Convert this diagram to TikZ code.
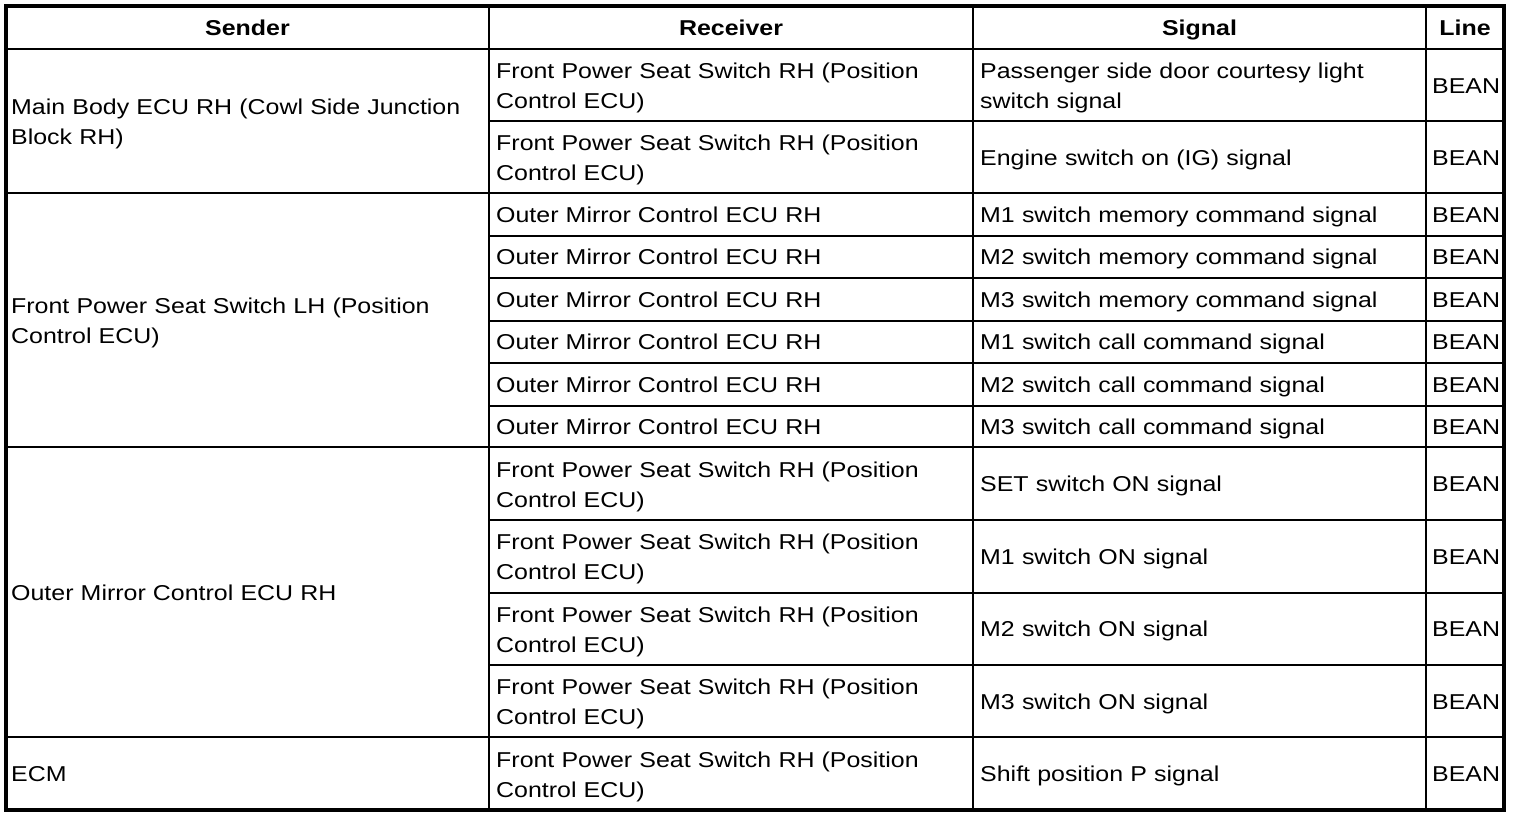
\documentclass[tikz,border=0pt]{standalone}
\usepackage{fontspec}
\setmainfont[FakeStretch=1.16]{Liberation Sans}
\begin{document}
\begin{tikzpicture}[x=1pt,y=-1pt,
  cell/.style={anchor=base west, align=left, text width=460pt, inner sep=0pt, font=\fontsize{21.5}{30}\selectfont},
  head/.style={anchor=base, inner sep=0pt, font=\fontsize{21.5}{30}\selectfont\bfseries},
  thin rule/.style={line width=2pt},
  frame/.style={line width=4pt}]
\useasboundingbox (0,0) rectangle (1520,816);
% rules
\foreach \y in {49,193,447,737} \draw[thin rule] (6,\y) -- (1504,\y);
\foreach \y in {121,235.5,278,320.5,363,405.5,520,592.5,665} \draw[thin rule] (489,\y) -- (1504,\y);
\foreach \x in {489,973,1426} \draw[thin rule] (\x,6) -- (\x,810);
\draw[frame] (6,6) rectangle (1504,810);
% header
\node[head] (h1) at (247.5,35.5) {Sender};
\node[head] (h2) at (731,35.5) {Receiver};
\node[head] (h3) at (1199.5,35.5) {Signal};
\node[head] (h4) at (1465,35.5) {Line};
% senders
\node[cell] (s1) at (11,114.5) {Main Body ECU RH (Cowl Side Junction\\Block RH)};
\node[cell] (s2) at (11,313.5) {Front Power Seat Switch LH (Position\\Control ECU)};
\node[cell] (s3) at (11,600) {Outer Mirror Control ECU RH};
\node[cell] (s4) at (11,781.5) {ECM};
% receivers
\node[cell] (r1) at (496,78.5) {Front Power Seat Switch RH (Position\\Control ECU)};
\node[cell] (r2) at (496,150.5) {Front Power Seat Switch RH (Position\\Control ECU)};
\node[cell] (r3) at (496,222.25) {Outer Mirror Control ECU RH};
\node[cell] (r4) at (496,264.75) {Outer Mirror Control ECU RH};
\node[cell] (r5) at (496,307.25) {Outer Mirror Control ECU RH};
\node[cell] (r6) at (496,349.75) {Outer Mirror Control ECU RH};
\node[cell] (r7) at (496,392.25) {Outer Mirror Control ECU RH};
\node[cell] (r8) at (496,434.25) {Outer Mirror Control ECU RH};
\node[cell] (r9) at (496,477) {Front Power Seat Switch RH (Position\\Control ECU)};
\node[cell] (r10) at (496,549.75) {Front Power Seat Switch RH (Position\\Control ECU)};
\node[cell] (r11) at (496,622.25) {Front Power Seat Switch RH (Position\\Control ECU)};
\node[cell] (r12) at (496,694.5) {Front Power Seat Switch RH (Position\\Control ECU)};
\node[cell] (r13) at (496,767) {Front Power Seat Switch RH (Position\\Control ECU)};
% signals
\node[cell] (g1) at (980,78.5) {Passenger side door courtesy light\\switch signal};
\node[cell] (g2) at (980,165) {Engine switch on (IG) signal};
\node[cell] (g3) at (980,222.25) {M1 switch memory command signal};
\node[cell] (g4) at (980,264.75) {M2 switch memory command signal};
\node[cell] (g5) at (980,307.25) {M3 switch memory command signal};
\node[cell] (g6) at (980,349.75) {M1 switch call command signal};
\node[cell] (g7) at (980,392.25) {M2 switch call command signal};
\node[cell] (g8) at (980,434.25) {M3 switch call command signal};
\node[cell] (g9) at (980,491.5) {SET switch ON signal};
\node[cell] (g10) at (980,564.25) {M1 switch ON signal};
\node[cell] (g11) at (980,636.75) {M2 switch ON signal};
\node[cell] (g12) at (980,709) {M3 switch ON signal};
\node[cell] (g13) at (980,781.5) {Shift position P signal};
% lines
\foreach \i/\y in {1/93,2/165,3/222.25,4/264.75,5/307.25,6/349.75,7/392.25,8/434.25,9/491.5,10/564.25,11/636.75,12/709,13/781.5}
  \node[cell] (l\i) at (1432,\y) {BEAN};
\end{tikzpicture}
\end{document}
